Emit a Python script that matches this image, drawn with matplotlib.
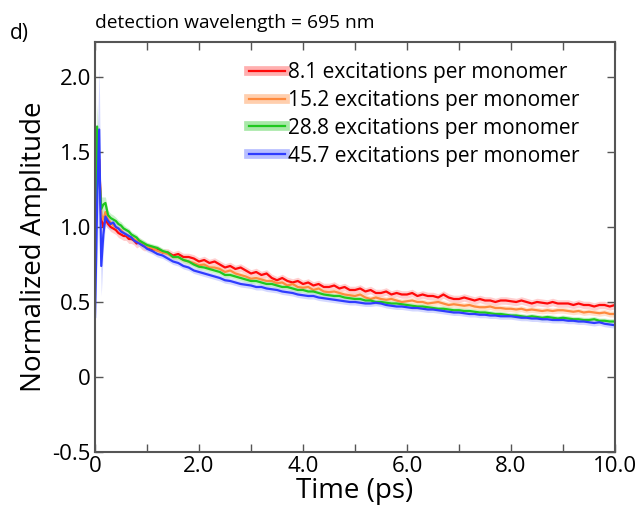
import numpy as np
import matplotlib
matplotlib.use("Agg")
import matplotlib.pyplot as plt
from matplotlib.lines import Line2D

plt.rcParams["font.family"] = ["Open Sans", "DejaVu Sans"]

# sample times (ps)
t_early = [0.0, 0.04, 0.08, 0.12, 0.16, 0.20, 0.25, 0.30, 0.35, 0.40, 0.45,
           0.50, 0.55, 0.60, 0.65, 0.70, 0.75, 0.80, 0.85, 0.90, 0.95]
t_late = np.round(np.arange(1.0, 10.001, 0.1), 2)

labels = ["8.1 excitations per monomer", "15.2 excitations per monomer",
          "28.8 excitations per monomer", "45.7 excitations per monomer"]
line_colors = ["#ff0a0a", "#ff8a3d", "#1ec81e", "#2e3cff"]
band_colors = ["#ffb0b0", "#ffcfae", "#a8e8a8", "#b8bfff"]

red_early = [0.70, 1.35, 1.45, 1.05, 1.00, 1.05, 1.02, 1.00, 0.99, 0.98, 0.96,
             0.95, 0.94, 0.94, 0.92, 0.92, 0.91, 0.89, 0.90, 0.88, 0.87]
red_late = [0.87, 0.85, 0.85, 0.83, 0.83, 0.81, 0.82, 0.80, 0.80, 0.79,
            0.77, 0.78, 0.76, 0.77, 0.75, 0.73, 0.74, 0.72, 0.73, 0.71,
            0.69, 0.70, 0.68, 0.69, 0.66, 0.645, 0.66, 0.64, 0.63, 0.64,
            0.62, 0.63, 0.61, 0.62, 0.60, 0.60, 0.61, 0.59, 0.60, 0.58,
            0.58, 0.59, 0.57, 0.58, 0.56, 0.56, 0.57, 0.55, 0.56, 0.55,
            0.55, 0.56, 0.54, 0.55, 0.54, 0.54, 0.53, 0.55, 0.53, 0.52,
            0.52, 0.53, 0.52, 0.51, 0.52, 0.51, 0.51, 0.50, 0.51, 0.51,
            0.505, 0.50, 0.51, 0.50, 0.49, 0.50, 0.495, 0.49, 0.50, 0.49,
            0.49, 0.49, 0.48, 0.49, 0.48, 0.48, 0.47, 0.48, 0.48, 0.47,
            0.48]

orange_early = [0.80, 1.50, 1.40, 1.08, 1.05, 1.10, 1.05, 1.03, 1.01, 1.00, 0.99,
                0.98, 0.96, 0.95, 0.94, 0.93, 0.92, 0.91, 0.90, 0.89, 0.88]
orange_late = [0.87, 0.86, 0.84, 0.83, 0.82, 0.80, 0.80, 0.78, 0.77, 0.76,
               0.745, 0.75, 0.73, 0.73, 0.72, 0.70, 0.71, 0.69, 0.68, 0.67,
               0.655, 0.66, 0.65, 0.64, 0.64, 0.625, 0.63, 0.61, 0.62, 0.60,
               0.595, 0.60, 0.58, 0.59, 0.57, 0.565, 0.57, 0.56, 0.55, 0.545,
               0.54, 0.55, 0.53, 0.52, 0.53, 0.52, 0.515, 0.52, 0.51, 0.50,
               0.505, 0.51, 0.50, 0.50, 0.49, 0.495, 0.50, 0.49, 0.48, 0.485,
               0.48, 0.475, 0.48, 0.47, 0.465, 0.465, 0.47, 0.46, 0.46, 0.455,
               0.455, 0.45, 0.455, 0.445, 0.45, 0.445, 0.44, 0.445, 0.44, 0.445,
               0.445, 0.44, 0.435, 0.44, 0.43, 0.435, 0.43, 0.425, 0.43, 0.42,
               0.42]

green_early = [0.93, 1.67, 1.35, 1.12, 1.15, 1.16, 1.08, 1.06, 1.05, 1.04, 1.02,
               1.01, 0.99, 0.98, 0.97, 0.95, 0.94, 0.93, 0.91, 0.90, 0.89]
green_late = [0.88, 0.87, 0.86, 0.84, 0.83, 0.80, 0.80, 0.78, 0.77, 0.75,
              0.735, 0.73, 0.72, 0.71, 0.70, 0.68, 0.68, 0.67, 0.66, 0.65,
              0.64, 0.64, 0.63, 0.62, 0.62, 0.61, 0.60, 0.60, 0.59, 0.58,
              0.58, 0.57, 0.57, 0.56, 0.55, 0.545, 0.54, 0.54, 0.53, 0.525,
              0.52, 0.52, 0.51, 0.51, 0.50, 0.50, 0.495, 0.49, 0.49, 0.485,
              0.48, 0.475, 0.47, 0.47, 0.465, 0.46, 0.455, 0.455, 0.45, 0.445,
              0.445, 0.44, 0.44, 0.435, 0.43, 0.43, 0.425, 0.42, 0.42, 0.415,
              0.41, 0.41, 0.405, 0.40, 0.405, 0.40, 0.395, 0.40, 0.395, 0.39,
              0.395, 0.39, 0.385, 0.385, 0.38, 0.38, 0.385, 0.375, 0.375, 0.37,
              0.37]

blue_early = [0.40, 1.15, 1.65, 0.74, 0.95, 1.07, 1.04, 1.02, 1.03, 1.00, 0.99,
              0.97, 0.96, 0.95, 0.94, 0.93, 0.91, 0.90, 0.89, 0.88, 0.87]
blue_late = [0.855, 0.84, 0.82, 0.81, 0.79, 0.77, 0.76, 0.74, 0.73, 0.71,
             0.70, 0.69, 0.68, 0.67, 0.66, 0.645, 0.64, 0.63, 0.62, 0.615,
             0.61, 0.60, 0.60, 0.59, 0.585, 0.58, 0.57, 0.565, 0.56, 0.55,
             0.545, 0.54, 0.54, 0.53, 0.525, 0.52, 0.515, 0.51, 0.505, 0.50,
             0.50, 0.495, 0.49, 0.49, 0.495, 0.49, 0.48, 0.475, 0.47, 0.47,
             0.465, 0.46, 0.46, 0.455, 0.45, 0.45, 0.445, 0.44, 0.435, 0.43,
             0.43, 0.425, 0.42, 0.42, 0.415, 0.415, 0.41, 0.41, 0.405, 0.405,
             0.405, 0.40, 0.395, 0.395, 0.39, 0.39, 0.385, 0.385, 0.38, 0.38,
             0.38, 0.375, 0.375, 0.37, 0.37, 0.365, 0.36, 0.365, 0.355, 0.35,
             0.345]

# half-width of the shaded uncertainty band: early points, then a constant
red_err_early = [0.12, 0.15, 0.15, 0.08, 0.05, 0.04, 0.03, 0.03, 0.03, 0.03, 0.03,
                 0.03, 0.03, 0.03, 0.03, 0.03, 0.03, 0.03, 0.03, 0.03, 0.03]
orange_err_early = [0.12, 0.18, 0.15, 0.08, 0.05, 0.04, 0.03, 0.03, 0.03, 0.03, 0.03,
                    0.025, 0.025, 0.025, 0.025, 0.025, 0.025, 0.025, 0.025, 0.025, 0.025]
green_err_early = [0.10, 0.15, 0.15, 0.08, 0.05, 0.04, 0.03, 0.03, 0.03, 0.025, 0.025,
                   0.025, 0.025, 0.02, 0.02, 0.02, 0.02, 0.02, 0.02, 0.02, 0.02]
blue_err_early = [0.12, 0.38, 0.42, 0.20, 0.10, 0.06, 0.05, 0.04, 0.03, 0.03, 0.03,
                  0.025, 0.025, 0.025, 0.025, 0.02, 0.02, 0.02, 0.02, 0.02, 0.02]
late_err = [0.025, 0.02, 0.018, 0.02]

series = [(red_early, red_late, red_err_early),
          (orange_early, orange_late, orange_err_early),
          (green_early, green_late, green_err_early),
          (blue_early, blue_late, blue_err_early)]

fig = plt.figure(figsize=(6.39, 5.19), dpi=100)
ax = fig.add_axes([0.1487, 0.1291, 0.8137, 0.7899])

t = np.concatenate([t_early, t_late])
for (early, late, err_early), bc, err_late in zip(series, band_colors, late_err):
    y = np.concatenate([early, late])
    err = np.concatenate([err_early, np.full(len(late), err_late)])
    ax.fill_between(t, y - err, y + err, color=bc, alpha=0.6, linewidth=0)
for (early, late, _), lc in zip(series, line_colors):
    y = np.concatenate([early, late])
    ax.plot(t, y, color=lc, linewidth=1.6)

ax.set_xlim(0, 10)
ax.set_ylim(-0.5, 2.233)
ax.set_xticks([0, 2, 4, 6, 8, 10])
ax.set_xticklabels(["0", "2.0", "4.0", "6.0", "8.0", "10.0"])
ax.set_xticks([1, 3, 5, 7, 9], minor=True)
ax.set_yticks([-0.5, 0, 0.5, 1.0, 1.5, 2.0])
ax.set_yticklabels(["-0.5", "0", "0.5", "1.0", "1.5", "2.0"])
ax.tick_params(which="both", direction="in", top=True, right=True,
               length=6, width=1.0, color="#555555", labelsize=16, pad=3)
for spine in ax.spines.values():
    spine.set_color("#555555")
    spine.set_linewidth(1.5)

ax.set_xlabel("Time (ps)", fontsize=20, labelpad=0)
ax.set_ylabel("Normalized Amplitude", fontsize=20, labelpad=3)

handles = [(Line2D([], [], color=bc, linewidth=7), Line2D([], [], color=lc, linewidth=1.6))
           for lc, bc in zip(line_colors, band_colors)]
ax.legend(handles, labels, loc="upper right", bbox_to_anchor=(0.955, 0.982),
          frameon=False, fontsize=15, handlelength=1.75, handletextpad=0.1,
          labelspacing=0.33, borderaxespad=0.2)

fig.text(0.016, 0.936, "d)", fontsize=15, va="center")
fig.text(0.148, 0.956, "detection wavelength = 695 nm", fontsize=13.8, va="center")

fig.savefig("out.png", dpi=100)
